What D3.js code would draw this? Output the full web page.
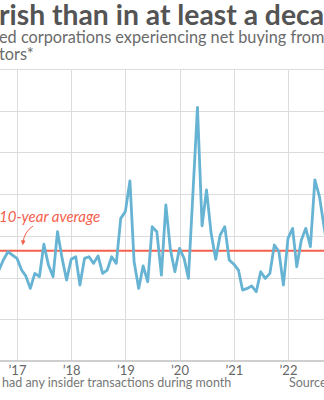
<!DOCTYPE html>
<html>
<head>
<meta charset="utf-8">
<script src="https://cdn.jsdelivr.net/npm/d3@7"></script>
<style>
  html, body { margin: 0; padding: 0; background: #fff; }
  svg { display: block; font-family: Lato, "Open Sans", sans-serif; }
</style>
</head>
<body>
<svg id="chart" width="324" height="400"></svg>
<script>
// ---- data (monthly share of companies with net insider buying, %) ----
const months = [
  "2016-09","2016-10","2016-11","2016-12",
  "2017-01","2017-02","2017-03","2017-04","2017-05","2017-06","2017-07","2017-08","2017-09","2017-10","2017-11","2017-12",
  "2018-01","2018-02","2018-03","2018-04","2018-05","2018-06","2018-07","2018-08","2018-09","2018-10","2018-11","2018-12",
  "2019-01","2019-02","2019-03","2019-04","2019-05","2019-06","2019-07","2019-08","2019-09","2019-10","2019-11","2019-12",
  "2020-01","2020-02","2020-03","2020-04","2020-05","2020-06","2020-07","2020-08","2020-09","2020-10","2020-11","2020-12",
  "2021-01","2021-02","2021-03","2021-04","2021-05","2021-06","2021-07","2021-08","2021-09","2021-10","2021-11","2021-12",
  "2022-01","2022-02","2022-03","2022-04","2022-05","2022-06","2022-07","2022-08","2022-09","2022-10"
];
const values = [
  10.9, 12.1, 13.1, 12.7,
  12.3, 10.9, 10.2, 8.7, 10.5, 10.1, 14.0, 11.5, 10.1, 15.5, 12.3, 9.7,
  12.2, 12.5, 9.1, 12.3, 12.5, 11.7, 12.6, 10.5, 10.9, 12.5, 11.7, 17.1,
  17.9, 21.6, 11.9, 8.7, 11.4, 9.5, 16.1, 15.5, 10.3, 18.7, 13.3, 10.7,
  13.5, 12.3, 9.9, 20.3, 30.4, 16.2, 20.5, 15.3, 12.2, 15.1, 16.1, 12.1,
  11.6, 10.9, 8.5, 8.7, 9.0, 8.3, 10.7, 9.9, 10.5, 13.9, 13.1, 9.1,
  14.7, 15.9, 11.3, 14.5, 15.9, 13.7, 21.7, 19.7, 16.1, 12.7
];
const tenYearAverage = 13.2;
const yearTicks = [2017, 2018, 2019, 2020, 2021, 2022];
const yTicks = [0, 5, 10, 15, 20, 25, 30, 35];

const titleText = "rish than in at least a decade";
const subtitleLines = ["ed corporations experiencing net buying from", "tors*"];
const annotationText = "10-year average";
const footnoteText = "had any insider transactions during month";
const sourceText = "Source";

// ---- drawing ----
const svg = d3.select("#chart");
const W = 324;
const parse = d3.timeParse("%Y-%m");
const data = months.map((m, i) => ({ date: parse(m), value: values[i] }));

const x = d3.scaleTime()
  .domain([new Date(2017, 0, 1), new Date(2022, 0, 1)])
  .range([17, 288]);
const y = d3.scaleLinear().domain([0, 35]).range([361, 69]);

// title & subtitle
svg.append("text").attr("x", -1).attr("y", 25)
  .attr("font-size", 28.3).attr("font-weight", 700).attr("fill", "#545454")
  .text(titleText);
svg.selectAll("text.sub").data(subtitleLines).join("text").attr("class", "sub")
  .attr("x", -1).attr("y", (d, i) => 43 + i * 17)
  .attr("font-size", 16.3).attr("fill", "#6b6b6b")
  .text(d => d);

// horizontal grid
svg.append("g").selectAll("line").data(yTicks.slice(1)).join("line")
  .attr("x1", 0).attr("x2", W)
  .attr("y1", d => Math.round(y(d)) + 0.5).attr("y2", d => Math.round(y(d)) + 0.5)
  .attr("stroke", "#dcdcdc").attr("stroke-width", 1);

// vertical grid
svg.append("g").selectAll("line").data(yearTicks).join("line")
  .attr("x1", d => Math.round(x(new Date(d, 0, 1))) + 0.5)
  .attr("x2", d => Math.round(x(new Date(d, 0, 1))) + 0.5)
  .attr("y1", y(35)).attr("y2", y(0))
  .attr("stroke", "#dcdcdc").attr("stroke-width", 1);

// x axis
const xAxis = d3.axisBottom(x)
  .tickValues(yearTicks.map(d => new Date(d, 0, 1)))
  .tickFormat(d => "\u2019" + d3.timeFormat("%y")(d))
  .tickSize(0).tickPadding(0);
const gx = svg.append("g").attr("transform", `translate(0,${y(0)})`).call(xAxis);
gx.select(".domain").remove();
gx.selectAll("text").attr("font-size", 13).attr("fill", "#666")
  .attr("font-family", "Lato, sans-serif").attr("y", 14).attr("dy", 0);
svg.append("line").attr("x1", 0).attr("x2", W).attr("y1", y(0)).attr("y2", y(0))
  .attr("stroke", "#cfcfcf").attr("stroke-width", 2);

// average line
svg.append("line").attr("x1", 0).attr("x2", W)
  .attr("y1", y(tenYearAverage)).attr("y2", y(tenYearAverage))
  .attr("stroke", "#f4614d").attr("stroke-width", 2);

// series line
svg.append("path").datum(data)
  .attr("fill", "none").attr("stroke", "#66b3d3").attr("stroke-width", 2.8)
  .attr("stroke-linejoin", "round")
  .attr("d", d3.line().x(d => x(d.date)).y(d => y(d.value)));

// annotation
svg.append("text").attr("x", -1).attr("y", 222)
  .attr("font-size", 15).attr("font-style", "italic").attr("fill", "#f4614d")
  .text(annotationText);
svg.append("defs").append("marker").attr("id", "arr")
  .attr("viewBox", "0 0 10 10").attr("refX", 5).attr("refY", 5)
  .attr("markerWidth", 5).attr("markerHeight", 5).attr("orient", "auto")
  .append("path").attr("d", "M0,0 L10,5 L0,10 Z").attr("fill", "#f4614d");
svg.append("path")
  .attr("d", `M33,226 Q24,232 23,${y(tenYearAverage) - 8}`)
  .attr("fill", "none").attr("stroke", "#f4614d").attr("stroke-width", 1)
  .attr("marker-end", "url(#arr)");

// footnote
svg.append("text").attr("x", 2).attr("y", 387)
  .attr("font-size", 12.5).attr("fill", "#777").text(footnoteText);
svg.append("text").attr("x", 289).attr("y", 387)
  .attr("font-size", 12.5).attr("fill", "#777").text(sourceText);
</script>
</body>
</html>
